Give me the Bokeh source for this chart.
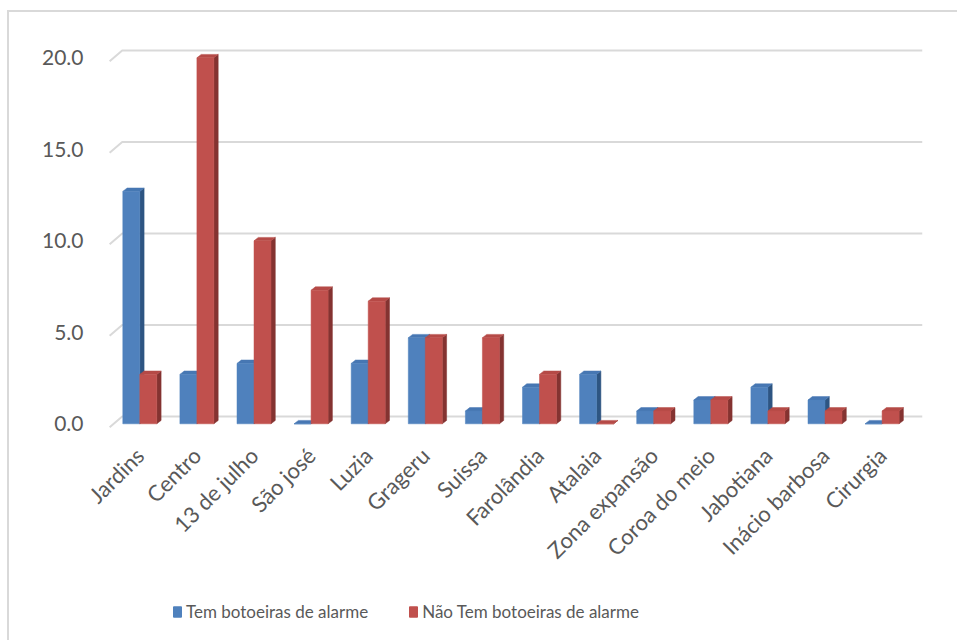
import math

from bokeh.embed import file_html
from bokeh.layouts import column
from bokeh.models import (ColumnDataSource, FixedTicker, InlineStyleSheet, Legend,
                          LegendItem, NumeralTickFormatter, Range1d)
from bokeh.plotting import figure
from bokeh.resources import INLINE

# ---- data -------------------------------------------------------------
bairros = ["Jardins", "Centro", "13 de julho", "São josé", "Luzia", "Grageru",
           "Suissa", "Farolândia", "Atalaia", "Zona expansão", "Coroa do meio",
           "Jabotiana", "Inácio barbosa", "Cirurgia"]
tem_botoeiras = [12.7, 2.7, 3.3, 0.0, 3.3, 4.7, 0.7, 2.0, 2.7, 0.7, 1.3, 2.0, 1.3, 0.0]
nao_tem_botoeiras = [2.7, 20.0, 10.0, 7.3, 6.7, 4.7, 4.7, 2.7, 0.0, 0.7, 1.3, 0.7, 0.7, 0.7]
y_ticks = [0, 5, 10, 15, 20]
serie_nomes = ["Tem botoeiras de alarme", "Não Tem botoeiras de alarme"]

# ---- layout constants (pixels) -----------------------------------------
W = 957
H_CHART, H_LEGEND = 585, 55
FRAME_L, FRAME_R, FRAME_T, FRAME_B = 108, 922, 40, 430
PX_CAT = 57.1        # pixels per category
PX_VAL = 18.3        # pixels per value unit
BASE_PX = 423.3      # screen y of value 0 on the bar front plane
FIRST_CAT_PX = 139.3 # screen x of first category centre

x0 = (FRAME_L - FIRST_CAT_PX) / PX_CAT
x1 = x0 + (FRAME_R - FRAME_L) / PX_CAT
y0 = -(FRAME_B - BASE_PX) / PX_VAL
y1 = y0 + (FRAME_B - FRAME_T) / PX_VAL

# 3-D offsets converted to data units
BAR_W = 17.0 / PX_CAT
BAR_DX = 4.3 / PX_CAT
BAR_DY = 3.4 / PX_VAL
WALL_DX = 13.7 / PX_CAT
WALL_UP = (BASE_PX - 416.0) / PX_VAL
FRONT_DOWN = (426.7 - BASE_PX) / PX_VAL

TEXT_COLOR = "#595959"
FONT = "Lato"
GRID_COLOR = "#D9D9D9"
BORDER_CSS = """
:host::after {
  content: ""; position: absolute; left: 7px; top: %dpx;
  width: 3000px; height: 3000px;
  border-left: 2px solid #D9D9D9; %s
  pointer-events: none; box-sizing: border-box;
}
"""

p = figure(width=W, height=H_CHART, output_backend="svg", toolbar_location=None,
           x_range=Range1d(x0, x1), y_range=Range1d(y0, y1),
           min_border_left=FRAME_L, min_border_right=W - FRAME_R,
           min_border_top=FRAME_T, min_border_bottom=H_CHART - FRAME_B)
p.outline_line_color = None
p.xgrid.visible = False
p.ygrid.visible = False
p.background_fill_color = "white"
p.border_fill_color = "white"
p.stylesheets = [InlineStyleSheet(css=BORDER_CSS % (10, "border-top: 2px solid #D9D9D9;"))]

# ---- back wall gridlines with the perspective stub at the left ---------
gx0 = x0 + 0.02
grid_xs, grid_ys = [], []
for t in y_ticks:
    grid_xs.append([gx0, x0 + WALL_DX, x1])
    grid_ys.append([t - FRONT_DOWN, t + WALL_UP, t + WALL_UP])
p.multi_line(grid_xs, grid_ys, line_color=GRID_COLOR, line_width=2)


# ---- 3-D columns --------------------------------------------------------
def column_faces(values, offset):
    lefts = [i + offset for i in range(len(values))]
    rights = [l + BAR_W for l in lefts]
    side_xs = [[r, r + BAR_DX, r + BAR_DX, r] for r in rights]
    side_ys = [[0, BAR_DY, v + BAR_DY, v] for v in values]
    top_xs = [[l, l + BAR_DX, r + BAR_DX, r] for l, r in zip(lefts, rights)]
    top_ys = [[v, v + BAR_DY, v + BAR_DY, v] for v in values]
    return lefts, rights, side_xs, side_ys, top_xs, top_ys


series = [
    (tem_botoeiras, -BAR_W, "#4F81BD", "#2E5582", "#4777B3"),
    (nao_tem_botoeiras, 0.0, "#C0504D", "#843331", "#B54A47"),
]
sources = []
for vals, off, front_c, side_c, top_c in series:
    lefts, rights, sxs, sys_, txs, tys = column_faces(vals, off)
    p.patches(sxs, sys_, fill_color=side_c, line_color=side_c, line_width=0.5)
    p.patches(txs, tys, fill_color=top_c, line_color=top_c, line_width=0.5)
    src = ColumnDataSource(dict(left=lefts, right=rights, top=vals,
                                bottom=[0] * len(vals)))
    p.quad(left="left", right="right", top="top", bottom="bottom", source=src,
           fill_color=front_c, line_color=front_c, line_width=0.5)
    sources.append(src)

# ---- axes ----------------------------------------------------------------
p.yaxis.ticker = FixedTicker(ticks=y_ticks)
p.yaxis.formatter = NumeralTickFormatter(format="0.0")
p.yaxis.axis_line_color = None
p.yaxis.major_tick_line_color = None
p.yaxis.minor_tick_line_color = None
p.yaxis.major_tick_out = 0
p.yaxis.major_label_standoff = 25
p.yaxis.major_label_text_font = FONT
p.yaxis.major_label_text_font_size = "21px"
p.yaxis.major_label_text_color = TEXT_COLOR

p.xaxis.ticker = FixedTicker(ticks=list(range(len(bairros))))
p.xaxis.major_label_overrides = {i: b for i, b in enumerate(bairros)}
p.xaxis.major_label_orientation = math.pi / 4
p.xaxis.axis_line_color = None
p.xaxis.major_tick_line_color = None
p.xaxis.minor_tick_line_color = None
p.xaxis.major_tick_out = 0
p.xaxis.major_label_standoff = 21
p.xaxis.major_label_text_font = FONT
p.xaxis.major_label_text_font_size = "22px"
p.xaxis.major_label_text_color = TEXT_COLOR

# ---- legend strip under the chart ----------------------------------------
# the strip reuses the series sources; its ranges keep the bars out of view,
# so only the legend swatches and labels show
leg = figure(width=W, height=H_LEGEND, output_backend="svg", toolbar_location=None,
             x_range=Range1d(0, 1), y_range=Range1d(-100, -99),
             min_border=0, min_border_left=0, min_border_right=0,
             min_border_top=0, min_border_bottom=0)
leg.axis.visible = False
leg.grid.visible = False
leg.outline_line_color = None
leg.stylesheets = [InlineStyleSheet(css=BORDER_CSS % (-5, ""))]
swatches = []
for (_, _, front_c, _, _), src in zip(series, sources):
    swatches.append(leg.quad(left="left", right="right", top="top", bottom="bottom",
                             source=src, fill_color=front_c, line_color=front_c))

legend = Legend(
    items=[LegendItem(label=serie_nomes[0], renderers=[swatches[0]]),
           LegendItem(label=serie_nomes[1], renderers=[swatches[1]])],
    orientation="horizontal", location=(64, 18),
    glyph_width=10, glyph_height=13, label_standoff=4, spacing=40,
    padding=0, margin=0, border_line_color=None, background_fill_alpha=0,
    label_text_font=FONT, label_text_font_size="17px",
    label_text_color=TEXT_COLOR,
)
leg.add_layout(legend, "center")

layout = column(p, leg, spacing=0)
open("out.html", "w").write(file_html(layout, INLINE))
